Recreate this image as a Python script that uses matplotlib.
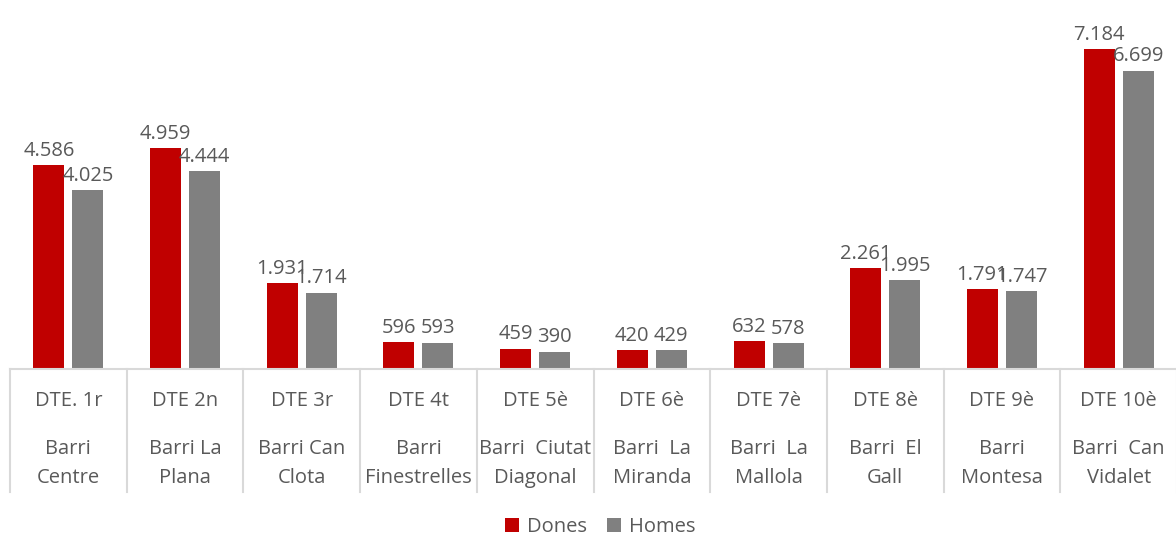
import matplotlib
matplotlib.use("Agg")
import matplotlib.pyplot as plt
import matplotlib.transforms as mtransforms
import numpy as np

districtes = ["DTE. 1r", "DTE 2n", "DTE 3r", "DTE 4t", "DTE 5è",
              "DTE 6è", "DTE 7è", "DTE 8è", "DTE 9è", "DTE 10è"]
barris = ["Barri\nCentre", "Barri La\nPlana", "Barri Can\nClota", "Barri\nFinestrelles",
          "Barri  Ciutat\nDiagonal", "Barri  La\nMiranda", "Barri  La\nMallola",
          "Barri  El\nGall", "Barri\nMontesa", "Barri  Can\nVidalet"]
dones = [4586, 4959, 1931, 596, 459, 420, 632, 2261, 1791, 7184]
homes = [4025, 4444, 1714, 593, 390, 429, 578, 1995, 1747, 6699]

RED = "#C00000"
GRAY = "#808080"
TXT = "#595959"
LINE = "#D9D9D9"
FONT = ["Open Sans", "DejaVu Sans"]


def fmt(v):
    # Catalan thousands separator
    return f"{v:,}".replace(",", ".")


W, H = 1176, 537
fig = plt.figure(figsize=(W / 100, H / 100), dpi=100)
ax = fig.add_axes([10 / W, (H - 369) / H, 1167 / W, 369 / H])

x = np.arange(len(districtes))
bw = 0.265
off = 0.167
b1 = ax.bar(x - off, dones, bw, color=RED, label="Dones")
b2 = ax.bar(x + off, homes, bw, color=GRAY, label="Homes")

for bars, vals in ((b1, dones), (b2, homes)):
    for rect, v in zip(bars, vals):
        ax.annotate(fmt(v), (rect.get_x() + rect.get_width() / 2, v),
                    xytext=(0, 3), textcoords="offset points",
                    ha="center", va="bottom", fontsize=14.5,
                    color=TXT, family=FONT)

ax.set_xlim(-0.5, len(districtes) - 0.5)
ax.set_ylim(0, 8285)
ax.set_yticks([])
ax.set_xticks([])
for s in ("left", "right", "top"):
    ax.spines[s].set_visible(False)
ax.spines["bottom"].set_color(LINE)
ax.spines["bottom"].set_linewidth(1.5)

# two-level category axis
trans = mtransforms.blended_transform_factory(ax.transData, ax.transAxes)
for i in range(len(districtes) + 1):
    ax.plot([i - 0.5, i - 0.5], [0, -0.333], transform=trans, color=LINE,
            lw=1.5, clip_on=False)
for i, (d, b) in enumerate(zip(districtes, barris)):
    ax.text(i, -0.087, d, transform=trans, ha="center", va="center",
            fontsize=14.5, color=TXT, family=FONT)
    ax.text(i, -0.256, b, transform=trans, ha="center", va="center",
            fontsize=14.5, color=TXT, family=FONT, linespacing=1.55)

fig.legend(handles=[b1, b2], labels=["Dones", "Homes"], loc="center",
           bbox_to_anchor=(600 / W, 1 - 527 / H), ncol=2, frameon=False,
           handlelength=0.7, handleheight=0.7, handletextpad=0.4,
           columnspacing=1.0, prop={"family": FONT, "size": 14.5},
           labelcolor=TXT)

fig.savefig("out.png", dpi=100)
